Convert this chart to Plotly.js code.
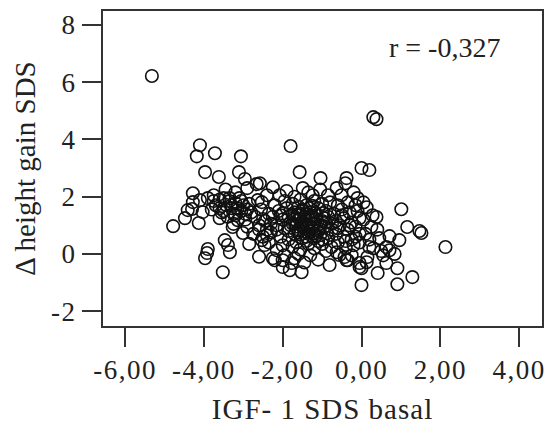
<!DOCTYPE html>
<html><head><meta charset="utf-8">
<script src="https://cdn.plot.ly/plotly-3.0.1.min.js"></script>
<style>
html,body{margin:0;padding:0;background:#fff;}
#chart{width:556px;height:436px;}
#chart .xtick text, #chart .ytick text{letter-spacing:1.5px;}
#chart .g-xtitle text{letter-spacing:1px;}
</style>
</head><body><div id="chart"></div>
<script>
// Axis ticks
const xTickVals = [-6, -4, -2, 0, 2, 4];
const xTickText = ['-6,00', '-4,00', '-2,00', '0,00', '2,00', '4,00'];
const yTickVals = [-2, 0, 2, 4, 6, 8];
const yTickText = ['-2', '0', '2', '4', '6', '8'];
const corrLabel = 'r = -0,327';

// IGF-1 SDS basal (x) and Δ height gain SDS (y), grouped by region
const outX = [-5.32, 0.30, 0.38, -1.80, -1.57, -1.04, -0.38, -0.41, 0.00, 0.20, 1.01, 1.16, 1.47, 1.52, 2.13, 1.29, 0.91, 0.91, 0.41, 0.00, 0.00, -0.05, 0.63, 0.71, 0.84, 0.63, 0.71, 0.96, 0.38, 0.13, -0.81, -1.52, -0.38, -0.56, 0.20, 0.15];
const outY = [6.22, 4.78, 4.71, 3.77, 2.86, 2.65, 2.65, 2.47, 3.00, 2.93, 1.56, 0.94, 0.80, 0.73, 0.24, -0.81, -1.06, -0.50, -0.67, -1.09, -0.50, -0.32, -0.32, 0.13, 0.00, 0.24, 0.62, 0.48, 1.29, 1.63, -0.39, -0.64, -0.22, -0.04, 0.24, -0.11];

const fringeX = [-2.25, -2.08, -2.58, -2.53, -1.49, -1.24, -0.63, -0.51, 0.28, -2.25, -0.05, 0.13, -0.43, -0.35, -3.27, -3.14, -2.63, -2.53, -2.46, -2.15, -3.92, -2.20, -2.00, -1.82, -0.76, -0.63, -1.77, -2.00];
const fringeY = [2.33, 2.05, 2.47, 1.81, 2.30, 2.05, 2.30, 2.05, 1.35, -0.15, -0.46, -0.29, -0.11, -0.22, 0.94, 1.18, 1.88, 0.48, 0.31, 0.13, 0.03, -0.22, -0.22, -0.57, 0.24, 0.06, -0.32, -0.46];

const leftX = [-4.10, -4.18, -3.72, -3.06, -3.97, -3.62, -3.11, -2.96, -2.66, -4.28, -4.28, -4.10, -4.41, -4.30, -4.48, -4.78, -4.13, -4.03, -3.47, -3.39, -3.34, -3.90, -3.97, -3.52, -3.01];
const leftY = [3.80, 3.41, 3.52, 3.41, 2.86, 2.69, 2.86, 2.62, 2.44, 2.12, 1.81, 1.88, 1.53, 1.57, 1.25, 0.97, 1.08, 1.46, 0.48, 0.31, 0.06, 0.17, -0.15, -0.64, 0.73];

const coreUpperX = [-3.45, -3.2, -2.9, -1.9, -1.7, -1.35, -1.05, -0.85, -0.2, -0.1, -3.75, -2.4,
  -3.9, -3.6, -3.35, -3.1, -2.85, -2.2, -1.95, -1.75, -1.55, -1.4, -1.2, -1.0, -0.8, -0.6, -0.35, -0.15, 0.05, -3.0, -3.7,
  -3.8, -3.55, -3.3, -3.05, -2.8, -2.55, -2.35, -2.1, -1.9, -1.7, -1.5, -1.3, -1.1, -0.9, -0.7, -0.5, -0.3, -0.1, -1.6, -1.25, -2.0];
const coreUpperY = [2.25, 2.15, 2.3, 2.2, 2.0, 2.15, 2.25, 2.05, 2.15, 1.95, 2.05, 2.05,
  1.95, 1.9, 1.85, 1.95, 1.75, 1.7, 1.85, 1.75, 1.9, 1.7, 1.85, 1.75, 1.8, 1.7, 1.8, 1.7, 1.8, 1.7, 1.7,
  1.55, 1.45, 1.6, 1.5, 1.45, 1.55, 1.4, 1.5, 1.6, 1.45, 1.55, 1.45, 1.6, 1.5, 1.4, 1.55, 1.45, 1.5, 1.65, 1.68, 1.42];

const coreMidX = [-3.6, -3.4, -2.95, -2.7, -2.45, -2.25, -2.0, -1.85, -1.65, -1.45, -1.3, -1.15, -1.0, -0.85, -0.65, -0.45, -0.25, -0.05, -1.55, -1.2, -1.75,
  -3.25, -2.9, -2.6, -2.4, -2.15, -1.95, -1.75, -1.6, -1.4, -1.25, -1.1, -0.95, -0.75, -0.55, -0.35, -0.15, -1.5, -1.85, -0.9];
const coreMidY = [1.25, 1.3, 1.2, 1.3, 1.15, 1.3, 1.2, 1.3, 1.15, 1.3, 1.2, 1.35, 1.15, 1.3, 1.15, 1.25, 1.1, 1.25, 1.4, 1.05, 1.38,
  1.05, 0.95, 1.0, 0.85, 1.0, 0.9, 1.05, 0.85, 1.0, 0.9, 0.8, 0.95, 0.85, 1.0, 0.85, 0.95, 1.1, 0.8, 1.1];

const coreLowX = [-2.75, -2.5, -2.3, -2.05, -1.85, -1.7, -1.5, -1.35, -1.2, -1.05, -0.85, -0.65, -0.45, -0.25, -0.05, -1.6, -1.4,
  -2.85, -2.35, -2.0, -1.75, -1.55, -1.35, -1.2, -1.0, -0.9, -0.6, -0.4, -0.2, -1.65, -1.1,
  -2.6, -1.95, -1.7, -1.45, -1.3, -1.1, -1.6, -0.25];
const coreLowY = [0.7, 0.6, 0.75, 0.6, 0.5, 0.7, 0.55, 0.7, 0.55, 0.65, 0.55, 0.7, 0.6, 0.5, 0.7, 0.75, 0.45,
  0.35, 0.4, 0.3, 0.25, 0.15, 0.35, 0.2, 0.35, 0.1, 0.4, 0.2, 0.3, 0.4, 0.45,
  -0.1, -0.05, -0.15, -0.3, -0.05, -0.2, 0.0, -0.05];

const denseX = [-1.45, -1.32, -1.15, -1.58, -1.22, -1.05, -1.38, -1.68, -0.98, -1.5, -3.45, -3.2, -3.25, -2.9, -3.5,
  -1.42, -1.28, -1.12, -1.35, -1.52, -1.18, -1.62, -0.95, -1.08, -1.48, -1.25, -1.4, -1.7, -0.88, -1.15, -1.55, -1.8, -0.75, -1.32, -0.98,
  -2.3, -2.5, -2.15, -2.4, -2.6, -2.05,
  -3.3, -3.5, -3.15, -3.6, -3.35, -3.05, -3.75, -3.2, -2.95,
  -0.5, -0.3, -0.6, -0.4, -0.15];
const denseY = [0.78, 1.08, 1.22, 1.22, 0.72, 0.98, 1.38, 0.95, 1.42, 0.95, 1.72, 1.78, 1.4, 1.55, 1.95,
  1.18, 0.95, 1.12, 0.82, 1.02, 1.45, 1.35, 1.25, 0.88, 1.52, 1.3, 0.6, 1.2, 0.72, 0.65, 0.68, 1.0, 1.05, 1.6, 0.5,
  1.05, 1.22, 0.85, 0.65, 0.85, 1.35,
  1.7, 1.5, 1.6, 1.6, 1.95, 1.85, 1.85, 1.35, 1.4,
  1.35, 1.0, 0.9, 0.45, 0.6];

const rightX = [0.25, 0.45, 0.10, 0.30, 0.50, 0.05, -0.05, 0.20, 0.40, 0.55];
const rightY = [0.95, 0.55, 0.70, 0.20, 0.10, 1.20, 0.40, 0.50, 0.85, -0.05];

const igfSds = [].concat(outX, fringeX, leftX, coreUpperX, coreMidX, coreLowX, denseX, rightX);
const heightGain = [].concat(outY, fringeY, leftY, coreUpperY, coreMidY, coreLowY, denseY, rightY);

const trace = {
  type: 'scatter', mode: 'markers',
  x: igfSds, y: heightGain,
  marker: {symbol: 'circle-open', size: 12.5, color: '#111', line: {width: 1.6}},
  hoverinfo: 'none'
};

const fontFam = 'Liberation Serif, Times New Roman, serif';
const axisCommon = {
  ticks: 'outside', ticklen: 19, tickwidth: 2, tickcolor: '#333',
  showgrid: false, zeroline: false, showline: true, mirror: true,
  linecolor: '#333', linewidth: 2, tickmode: 'array',
  tickfont: {family: fontFam, size: 27, color: '#222'}
};

const layout = {
  width: 556, height: 436,
  margin: {l: 103, r: 14, t: 11, b: 110, pad: 0},
  paper_bgcolor: '#fff', plot_bgcolor: '#fff',
  showlegend: false,
  font: {family: fontFam, color: '#222', size: 27},
  xaxis: Object.assign({}, axisCommon, {
    range: [-6.56, 4.58], tickvals: xTickVals, ticktext: xTickText,
    title: {text: 'IGF- 1 SDS basal', font: {family: fontFam, size: 29, color: '#222'}, standoff: 14}
  }),
  yaxis: Object.assign({}, axisCommon, {
    range: [-2.52, 8.49], tickvals: yTickVals, ticktext: yTickText,
    title: {text: 'Δ height gain SDS', font: {family: fontFam, size: 29, color: '#222'}, standoff: 10}
  }),
  annotations: [{
    xref: 'paper', yref: 'paper', x: 0.779, y: 0.883,
    xanchor: 'center', yanchor: 'middle',
    text: corrLabel, showarrow: false,
    font: {family: fontFam, size: 28, color: '#222'}
  }]
};

Plotly.newPlot('chart', [trace], layout, {displayModeBar: false, staticPlot: true});
</script></body></html>
